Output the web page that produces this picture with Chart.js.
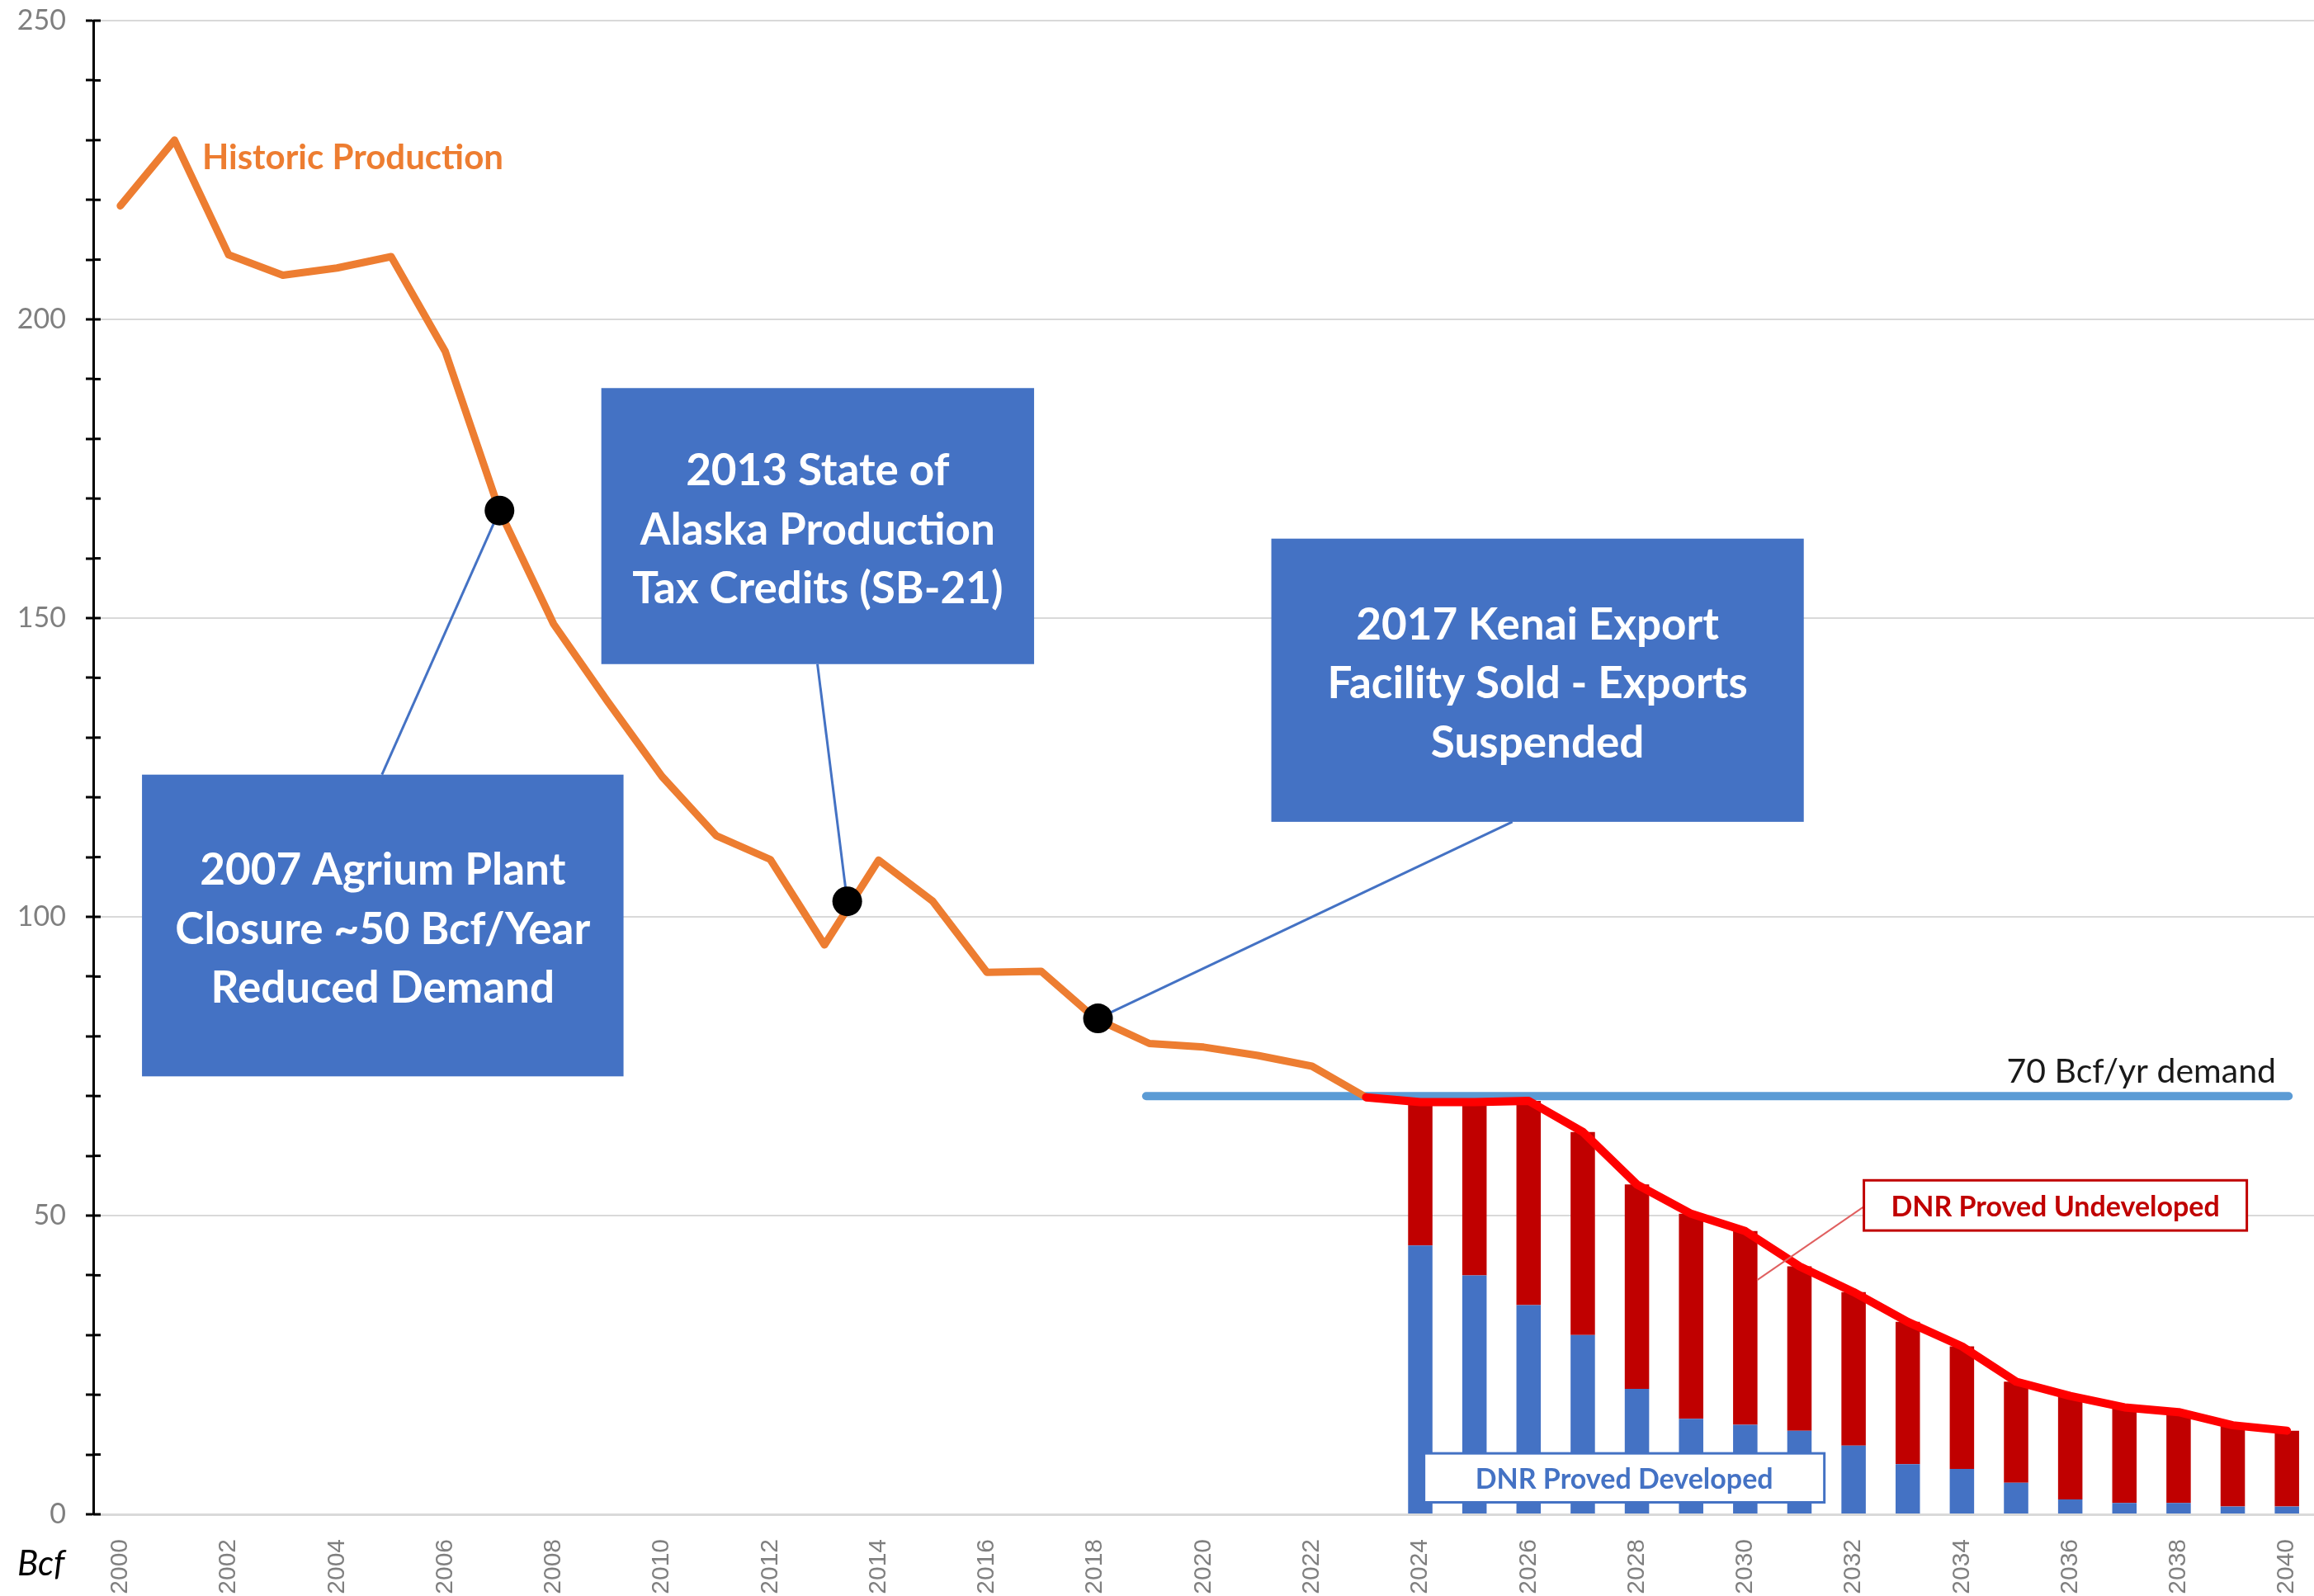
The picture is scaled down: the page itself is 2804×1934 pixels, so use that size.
<!DOCTYPE html>
<html>
<head>
<meta charset="utf-8">
<script src="https://cdn.jsdelivr.net/npm/chart.js@4.4.0/dist/chart.umd.min.js"></script>
<style>
  html, body { margin: 0; padding: 0; background: #fff; }
  #wrap { width: 2804px; height: 1934px; }
</style>
</head>
<body>
<div id="wrap"><canvas id="grafico" width="2804" height="1934"></canvas></div>
<script>
// Años del eje x
const years = ['2000', '2001', '2002', '2003', '2004', '2005', '2006', '2007', '2008', '2009',
    '2010', '2011', '2012', '2013', '2014', '2015', '2016', '2017', '2018', '2019',
    '2020', '2021', '2022', '2023', '2024', '2025', '2026', '2027', '2028', '2029',
    '2030', '2031', '2032', '2033', '2034', '2035', '2036', '2037', '2038', '2039', '2040'];

// Producción histórica 2000-2023 (Bcf)
const historicProduction = [219, 230, 210.8, 207.4, 208.6, 210.5, 194.6, 168, 149, 136,
    123.5, 113.6, 109.6, 95.3, 109.5, 102.6, 90.7, 90.9, 83, 78.8,
    78.2, 76.8, 75, 69.8];

// Pronóstico 2024-2040 (Bcf)
const forecastYears = ['2024', '2025', '2026', '2027', '2028', '2029', '2030', '2031', '2032',
    '2033', '2034', '2035', '2036', '2037', '2038', '2039', '2040'];
const provedDeveloped = [45, 40, 35, 30, 21, 16, 15, 14, 11.5, 8.4, 7.6, 5.3, 2.5, 1.9, 1.9, 1.3, 1.3];
const provedTotal = [69, 69, 69.2, 64, 55.2, 50.3, 47.4, 41.5, 37.2, 32.2, 28.1, 22.2, 19.8, 17.9, 17.1, 14.9, 14];

// Eventos marcados con punto negro
const eventYears = [2007, 2013.42, 2018.05];
const eventValues = [168, 102.6, 83];

// Demanda
const demandLevel = 70;
const demandRange = [2018.94, 2040.03];

// Armar series alineadas con las categorías
const firstForecast = years.indexOf(forecastYears[0]);
const serieDev = years.map((y, i) => i < firstForecast ? null : provedDeveloped[i - firstForecast]);
const serieUndev = years.map((y, i) => i < firstForecast ? null : provedTotal[i - firstForecast] - provedDeveloped[i - firstForecast]);
const serieHist = years.map((y, i) => i < historicProduction.length ? historicProduction[i] : null);
const serieTotal = years.map((y, i) => {
    if (i === firstForecast - 1) return historicProduction[historicProduction.length - 1];
    return i < firstForecast ? null : provedTotal[i - firstForecast];
});

// Cajas de texto (posiciones en unidades del gráfico: año, Bcf)
const cajas = [
    { lineas: ['2007 Agrium Plant', 'Closure ~50 Bcf/Year', 'Reduced Demand'],
      x0: 2000.40, x1: 2009.29, y0: 123.8, y1: 73.3, ancla: [2004.83, 123.8], evento: 0 },
    { lineas: ['2013 State of', 'Alaska Production', 'Tax Credits (SB-21)'],
      x0: 2008.88, x1: 2016.87, y0: 188.5, y1: 142.3, ancla: [2012.87, 142.3], evento: 1 },
    { lineas: ['2017 Kenai Export', 'Facility Sold - Exports', 'Suspended'],
      x0: 2021.25, x1: 2031.08, y0: 163.3, y1: 115.9, ancla: [2025.7, 115.9], evento: 2 }
];

const anotaciones = {
    id: 'anotaciones',
    beforeDatasetsDraw(chart) {
        const ctx = chart.ctx;
        const sx = chart.scales.x2;
        const sy = chart.scales.y;
        ctx.save();
        // líneas guía hacia los puntos
        ctx.strokeStyle = '#4472C4';
        ctx.lineWidth = 3;
        cajas.forEach(c => {
            ctx.beginPath();
            ctx.moveTo(sx.getPixelForValue(c.ancla[0]), sy.getPixelForValue(c.ancla[1]));
            ctx.lineTo(sx.getPixelForValue(eventYears[c.evento]), sy.getPixelForValue(eventValues[c.evento]));
            ctx.stroke();
        });
        // marcas del eje y hacia adentro
        ctx.strokeStyle = '#000';
        ctx.lineWidth = 3;
        sy.ticks.forEach(t => {
            const py = sy.getPixelForValue(t.value);
            ctx.beginPath();
            ctx.moveTo(sy.right, py);
            ctx.lineTo(sy.right + 9, py);
            ctx.stroke();
        });
        ctx.restore();
    },
    afterDatasetsDraw(chart) {
        const ctx = chart.ctx;
        const sx = chart.scales.x2;
        const sy = chart.scales.y;
        ctx.save();

        // cajas azules
        ctx.textAlign = 'center';
        ctx.textBaseline = 'middle';
        cajas.forEach(c => {
            const left = sx.getPixelForValue(c.x0), right = sx.getPixelForValue(c.x1);
            const top = sy.getPixelForValue(c.y0), bottom = sy.getPixelForValue(c.y1);
            ctx.fillStyle = '#4472C4';
            ctx.fillRect(left, top, right - left, bottom - top);
            ctx.fillStyle = '#fff';
            ctx.font = 'bold 53px Lato';
            const cx = (left + right) / 2, cy = (top + bottom) / 2 + 5;
            c.lineas.forEach((t, i) => ctx.fillText(t, cx, cy + (i - 1) * 71.5));
        });

        // etiqueta de producción histórica
        ctx.textAlign = 'left';
        ctx.fillStyle = '#ED7D31';
        ctx.font = 'bold 42px Lato';
        ctx.fillText('Historic Production', sx.getPixelForValue(2001.51), sy.getPixelForValue(227));

        // etiqueta de demanda
        ctx.textAlign = 'right';
        ctx.fillStyle = '#1a1a1a';
        ctx.font = '41px Lato';
        ctx.fillText('70 Bcf/yr demand', sx.getPixelForValue(2039.8), sy.getPixelForValue(74));

        // caja DNR Proved Undeveloped con su línea guía
        ctx.strokeStyle = '#E06060';
        ctx.lineWidth = 2;
        ctx.beginPath();
        ctx.moveTo(sx.getPixelForValue(2032.19), sy.getPixelForValue(51.5));
        ctx.lineTo(sx.getPixelForValue(2030.22), sy.getPixelForValue(39.2));
        ctx.stroke();
        let l = sx.getPixelForValue(2032.19), r = sx.getPixelForValue(2039.26);
        let t = sy.getPixelForValue(55.9), b = sy.getPixelForValue(47.5);
        ctx.fillStyle = '#fff';
        ctx.fillRect(l, t, r - l, b - t);
        ctx.strokeStyle = '#C00000';
        ctx.lineWidth = 3;
        ctx.strokeRect(l, t, r - l, b - t);
        ctx.textAlign = 'center';
        ctx.fillStyle = '#C00000';
        ctx.font = 'bold 34px Lato';
        ctx.fillText('DNR Proved Undeveloped', (l + r) / 2, (t + b) / 2 + 2);

        // caja DNR Proved Developed
        l = sx.getPixelForValue(2024.07); r = sx.getPixelForValue(2031.46);
        t = sy.getPixelForValue(10.2); b = sy.getPixelForValue(2.0);
        ctx.fillStyle = '#fff';
        ctx.fillRect(l, t, r - l, b - t);
        ctx.strokeStyle = '#4472C4';
        ctx.lineWidth = 3;
        ctx.strokeRect(l, t, r - l, b - t);
        ctx.fillStyle = '#4472C4';
        ctx.fillText('DNR Proved Developed', (l + r) / 2, (t + b) / 2 + 2);

        // unidad del eje
        ctx.textAlign = 'left';
        ctx.fillStyle = '#000';
        ctx.font = 'italic 42px Lato';
        ctx.fillText('Bcf', 21, 1895);

        ctx.restore();
    }
};

new Chart(document.getElementById('grafico').getContext('2d'), {
    data: {
        labels: years,
        datasets: [
            {
                type: 'bar',
                label: 'DNR Proved Developed',
                data: serieDev,
                stack: 'reservas',
                grouped: false,
                backgroundColor: '#4472C4',
                barPercentage: 0.45,
                categoryPercentage: 1,
                order: 5
            },
            {
                type: 'bar',
                label: 'DNR Proved Undeveloped',
                data: serieUndev,
                stack: 'reservas',
                grouped: false,
                backgroundColor: '#C00000',
                barPercentage: 0.45,
                categoryPercentage: 1,
                order: 5
            },
            {
                type: 'line',
                label: '70 Bcf/yr demand',
                xAxisID: 'x2',
                stack: 'demanda',
                data: [{ x: demandRange[0], y: demandLevel }, { x: demandRange[1], y: demandLevel }],
                borderColor: '#5B9BD5',
                borderWidth: 10,
                borderCapStyle: 'round',
                pointRadius: 0,
                order: 4
            },
            {
                type: 'line',
                label: 'Historic Production',
                stack: 'historico',
                data: serieHist,
                borderColor: '#ED7D31',
                borderWidth: 9,
                borderJoinStyle: 'round',
                borderCapStyle: 'round',
                pointRadius: 0,
                order: 3
            },
            {
                type: 'line',
                label: 'Total',
                stack: 'total',
                data: serieTotal,
                borderColor: '#FF0000',
                borderWidth: 10,
                borderJoinStyle: 'round',
                borderCapStyle: 'round',
                pointRadius: 0,
                order: 2
            },
            {
                type: 'scatter',
                label: 'Eventos',
                xAxisID: 'x2',
                stack: 'eventos',
                data: eventYears.map((x, i) => ({ x: x, y: eventValues[i] })),
                backgroundColor: '#000',
                borderWidth: 0,
                pointRadius: 18,
                order: 1
            }
        ]
    },
    options: {
        responsive: false,
        devicePixelRatio: 1,
        animation: false,
        layout: { autoPadding: false, padding: { top: 25, left: 0, right: -24, bottom: 0 } },
        plugins: {
            legend: { display: false },
            tooltip: { enabled: false }
        },
        scales: {
            x: {
                type: 'category',
                offset: true,
                stacked: true,
                grid: { display: false },
                border: { color: '#d9d9d9', width: 3 },
                ticks: {
                    autoSkip: false,
                    minRotation: 90,
                    maxRotation: 90,
                    padding: 22,
                    color: '#7f7f7f',
                    font: { family: 'Liberation Sans', size: 30 },
                    callback: (v, i) => i % 2 === 0 ? years[i] : ''
                },
                afterFit: s => { s.height = 99; s.paddingLeft = 0; s.paddingRight = 0; }
            },
            x2: {
                type: 'linear',
                display: false,
                min: 1999.5,
                max: 2040.5
            },
            y: {
                min: 0,
                max: 250,
                stacked: true,
                border: { color: '#000', width: 3 },
                grid: {
                    color: c => c.tick.value % 50 === 0 ? '#d9d9d9' : 'rgba(0,0,0,0)',
                    lineWidth: 2,
                    tickColor: '#000',
                    tickLength: 9,
                    tickWidth: 3
                },
                ticks: {
                    stepSize: 10,
                    padding: 24,
                    color: '#7f7f7f',
                    font: { family: 'Lato', size: 34 },
                    callback: v => v % 50 === 0 ? v : ''
                },
                afterFit: s => { s.width = 113; s.paddingTop = 0; s.paddingBottom = 0; }
            }
        }
    },
    plugins: [anotaciones]
});
</script>
</body>
</html>
